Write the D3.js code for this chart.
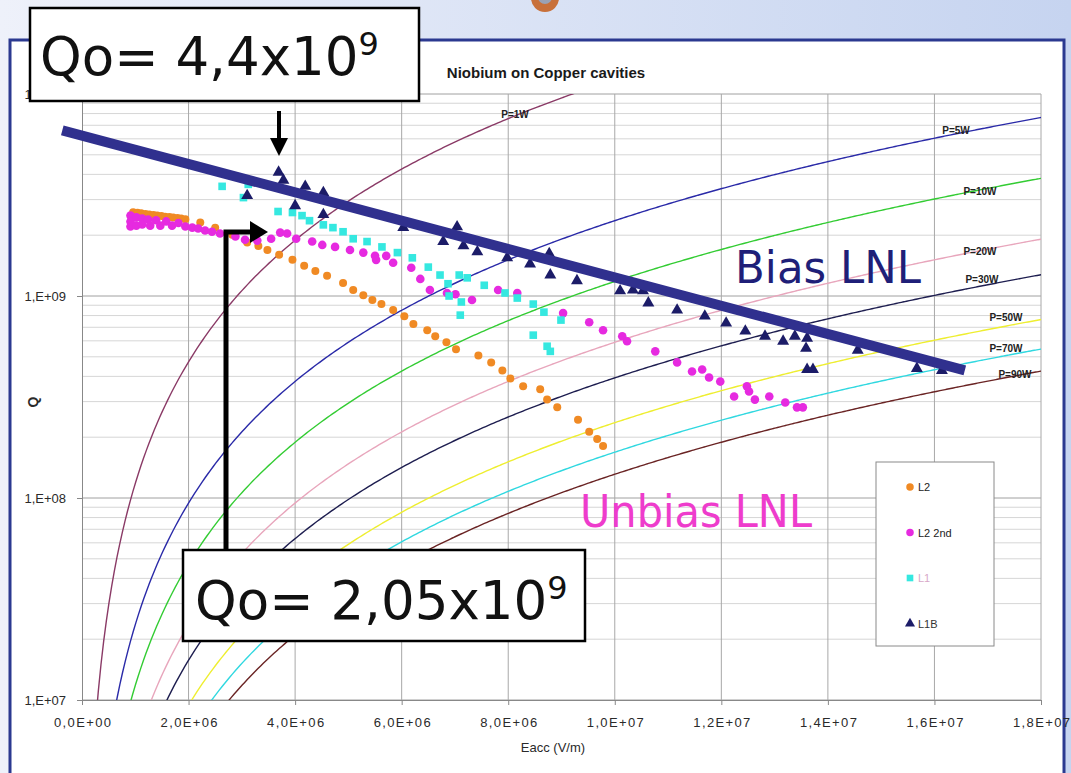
<!DOCTYPE html>
<html>
<head>
<meta charset="utf-8">
<script src="https://cdn.jsdelivr.net/npm/d3@7"></script>
<style>
  body { margin: 0; background: #fff; }
  svg { display: block; }
</style>
</head>
<body>
<div id="chart"></div>
<script>
// ---- data (Eacc in MV/m, Q in units of 1e9) ----
const xTickValues = [0, 2e6, 4e6, 6e6, 8e6, 1e7, 1.2e7, 1.4e7, 1.6e7, 1.8e7];
const xTickLabels = ['0,0E+00', '2,0E+06', '4,0E+06', '6,0E+06', '8,0E+06', '1,0E+07', '1,2E+07', '1,4E+07', '1,6E+07', '1,8E+07'];
const yTickValues = [1e7, 1e8, 1e9, 1e10];
const yTickLabels = ['1,E+07', '1,E+08', '1,E+09', '1,E+10'];

const seriesNames = ['L2', 'L2 2nd', 'L1', 'L1B'];

const l2 = [
  [0.96, 2.60], [1.04, 2.58], [1.11, 2.57], [1.19, 2.55], [1.26, 2.53], [1.34, 2.52], [1.41, 2.50],
  [1.49, 2.49], [1.56, 2.47], [1.64, 2.46], [1.71, 2.45], [1.79, 2.43], [1.86, 2.42], [1.94, 2.40],
  [2.22, 2.31], [2.50, 2.18], [2.82, 2.01], [3.10, 1.84], [3.31, 1.77], [3.48, 1.69], [3.70, 1.60],
  [3.95, 1.51], [4.17, 1.41], [4.38, 1.33], [4.60, 1.26], [4.90, 1.16], [5.09, 1.07], [5.28, 1.01],
  [5.45, 0.955], [5.62, 0.912], [5.84, 0.852], [6.05, 0.795], [6.22, 0.726], [6.48, 0.677],
  [6.63, 0.632], [6.84, 0.590], [7.02, 0.545], [7.44, 0.508], [7.68, 0.469], [7.89, 0.428],
  [8.04, 0.391], [8.28, 0.357], [8.60, 0.345], [8.73, 0.307], [8.92, 0.281], [9.31, 0.244],
  [9.52, 0.213], [9.67, 0.196], [9.78, 0.181]
];

const l2second = [
  [0.91, 2.50], [0.91, 2.34], [0.91, 2.21], [1.02, 2.45], [1.02, 2.23], [1.13, 2.42], [1.13, 2.26],
  [1.24, 2.39], [1.28, 2.23], [1.39, 2.37], [1.47, 2.23], [1.58, 2.34], [1.69, 2.23], [1.81, 2.30],
  [1.94, 2.21], [2.07, 2.18], [2.18, 2.16], [2.31, 2.11], [2.44, 2.08], [2.59, 2.04],
  [2.88, 1.97], [3.06, 1.90], [3.29, 1.88], [3.55, 1.92], [3.72, 2.06], [3.85, 2.04], [4.02, 1.92],
  [4.32, 1.86], [4.51, 1.79], [4.75, 1.75], [5.03, 1.69], [5.28, 1.64], [5.50, 1.58], [5.52, 1.51],
  [5.71, 1.58], [5.84, 1.46], [6.18, 1.38], [6.35, 1.215], [6.53, 1.07], [6.85, 1.035], [7.01, 1.02],
  [7.32, 0.955], [7.81, 1.07], [8.17, 1.035], [9.03, 0.823], [9.52, 0.742], [9.78, 0.677],
  [10.14, 0.632], [10.23, 0.597], [10.76, 0.532], [11.17, 0.469], [11.45, 0.423], [11.64, 0.433],
  [11.77, 0.395], [11.98, 0.377], [12.24, 0.318], [12.48, 0.357], [12.52, 0.337], [12.63, 0.307],
  [12.90, 0.318], [13.20, 0.297], [13.42, 0.281], [13.53, 0.281]
];

const l1 = [
  [2.63, 3.49], [3.12, 3.57], [3.03, 3.07], [3.68, 2.62], [3.95, 2.59], [4.13, 2.50], [4.27, 2.36],
  [4.53, 2.25], [4.71, 2.18], [4.90, 2.08], [5.09, 1.92], [5.35, 1.86], [5.63, 1.75], [5.92, 1.64],
  [6.20, 1.545], [6.50, 1.39], [6.72, 1.27], [6.87, 1.15], [6.89, 1.00], [7.08, 1.27], [7.23, 1.23],
  [7.12, 0.934], [7.10, 0.804], [7.55, 1.13], [7.94, 1.035], [8.17, 0.977], [8.47, 0.912],
  [8.67, 0.832], [8.99, 0.76], [8.47, 0.64], [8.73, 0.564], [8.79, 0.532]
];

const l1b = [
  [3.69, 4.10], [3.78, 3.74], [4.19, 3.49], [4.53, 3.25], [3.10, 3.14], [4.00, 2.80], [4.53, 2.53],
  [6.03, 2.18], [6.78, 1.86], [7.04, 2.20], [7.16, 1.77], [7.42, 1.655], [7.98, 1.545], [8.41, 1.44],
  [8.77, 1.62], [8.79, 1.27], [9.29, 1.19], [10.10, 1.06], [10.34, 1.07], [10.53, 1.06], [10.63, 0.923],
  [11.17, 0.852], [11.69, 0.795], [12.09, 0.734], [12.45, 0.67], [12.82, 0.632], [13.16, 0.597],
  [13.38, 0.632], [13.59, 0.551], [13.61, 0.618], [13.61, 0.433], [13.72, 0.433], [14.56, 0.539],
  [15.67, 0.438], [16.14, 0.428]
];

// straight "Bias LNL" trend line, ends
const biasLine = [[-0.37, 6.6], [16.57, 0.428]];

// iso-power curves Q = c * Eacc^2 / P
const powerLevels = [1, 5, 10, 20, 30, 50, 70, 90];
const powerLabels = ['P=1W', 'P=5W', 'P=10W', 'P=20W', 'P=30W', 'P=50W', 'P=70W', 'P=90W'];
const qCoef = 1.18e-4;

// ---- layout ----
const width = 1071;
const height = 773;
const plot = { left: 82, right: 1041, top: 94, bottom: 700 };

const powerColors = ['#8a3a66', '#2a2aa8', '#33cc33', '#e8a6bc', '#1e1e50', '#eeee30', '#30d8e0', '#6a2424'];
const powerLabelPos = [[515, 118], [956, 134], [980, 195], [980, 255], [982, 283], [1006, 321], [1006, 352], [1015, 378]];

const svg = d3.select('#chart')
  .append('svg')
  .attr('width', width)
  .attr('height', height);

const defs = svg.append('defs');
const bg = defs.append('linearGradient').attr('id', 'bg').attr('x1', 0).attr('x2', 1).attr('y1', 0).attr('y2', 0);
bg.append('stop').attr('offset', '0%').attr('stop-color', '#eef1fa');
bg.append('stop').attr('offset', '100%').attr('stop-color', '#c6d4f0');

defs.append('clipPath').attr('id', 'plotclip')
  .append('rect')
  .attr('x', plot.left).attr('y', plot.top)
  .attr('width', plot.right - plot.left).attr('height', plot.bottom - plot.top);

svg.append('rect').attr('width', width).attr('height', height).attr('fill', 'url(#bg)');

// small logo peeking at the top
svg.append('circle').attr('cx', 545).attr('cy', -2).attr('r', 14).attr('fill', '#c8703a');
svg.append('circle').attr('cx', 545).attr('cy', -3).attr('r', 7).attr('fill', '#9aa2b4');

// slide panel
svg.append('rect')
  .attr('x', 10).attr('y', 40)
  .attr('width', 1054).attr('height', 760)
  .attr('fill', '#fff')
  .attr('stroke', '#2b3990')
  .attr('stroke-width', 3);

const xScale = d3.scaleLinear().domain([0, 1.8e7]).range([plot.left, plot.right]);
const yScale = d3.scaleLog().domain([1e7, 1e10]).range([plot.bottom, plot.top]);

// ---- grid ----
const minorY = [];
[7, 8, 9].forEach(e => { for (let m = 2; m <= 9; m++) minorY.push(m * Math.pow(10, e)); });

svg.append('g')
  .selectAll('line')
  .data(minorY)
  .enter()
  .append('line')
  .attr('x1', plot.left).attr('x2', plot.right)
  .attr('y1', d => yScale(d)).attr('y2', d => yScale(d))
  .attr('stroke', '#d6d6d6')
  .attr('stroke-width', 1);

svg.append('g')
  .selectAll('line')
  .data(yTickValues)
  .enter()
  .append('line')
  .attr('x1', plot.left).attr('x2', plot.right)
  .attr('y1', d => yScale(d)).attr('y2', d => yScale(d))
  .attr('stroke', '#a0a0a0');

svg.append('g')
  .selectAll('line')
  .data(xTickValues.slice(1))
  .enter()
  .append('line')
  .attr('x1', d => xScale(d)).attr('x2', d => xScale(d))
  .attr('y1', plot.top).attr('y2', plot.bottom)
  .attr('stroke', '#a8a8a8');

// ---- axes ----
const xAxis = d3.axisBottom(xScale)
  .tickValues(xTickValues)
  .tickFormat((d, i) => xTickLabels[i])
  .tickSize(5)
  .tickSizeOuter(0);

const yAxis = d3.axisLeft(yScale)
  .tickValues(yTickValues)
  .tickFormat((d, i) => yTickLabels[i])
  .tickSize(5)
  .tickSizeOuter(0);

const gx = svg.append('g')
  .attr('transform', `translate(0, ${plot.bottom})`)
  .call(xAxis);
gx.selectAll('text')
  .attr('dy', '1.45em')
  .style('font', '13px "Liberation Sans", Arial, sans-serif')
  .attr('fill', '#2a2a2a')
  .attr('textLength', 57)
  .attr('lengthAdjust', 'spacing');

const gy = svg.append('g')
  .attr('transform', `translate(${plot.left}, 0)`)
  .call(yAxis);
gy.selectAll('text')
  .attr('x', -16)
  .style('font', '13px "Liberation Sans", Arial, sans-serif')
  .attr('fill', '#2a2a2a');

[gx, gy].forEach(g => {
  g.select('.domain').attr('stroke', '#888');
  g.selectAll('.tick line').attr('stroke', '#888');
});

svg.append('text')
  .attr('x', 553).attr('y', 752)
  .attr('text-anchor', 'middle')
  .style('font', '13px "Liberation Sans", Arial, sans-serif')
  .attr('fill', '#2a2a2a')
  .text('Eacc (V/m)');

svg.append('text')
  .attr('transform', 'translate(38, 402) rotate(-90)')
  .attr('text-anchor', 'middle')
  .style('font', 'bold 14px "Liberation Sans", Arial, sans-serif')
  .attr('fill', '#2a2a2a')
  .text('Q');

svg.append('text')
  .attr('x', 546).attr('y', 78)
  .attr('text-anchor', 'middle')
  .style('font', 'bold 15px "Liberation Sans", Arial, sans-serif')
  .attr('fill', '#1a1a1a')
  .text('Niobium on Copper cavities');

// ---- iso-power curves ----
const curveLine = d3.line()
  .x(d => xScale(d[0]))
  .y(d => yScale(d[1]))
  .curve(d3.curveMonotoneX);

const curveG = svg.append('g').attr('clip-path', 'url(#plotclip)');
powerLevels.forEach((p, i) => {
  const eStart = Math.sqrt(5e6 * p / qCoef);
  const pts = d3.range(eStart, 1.82e7, 5e4).map(e => [e, qCoef * e * e / p]);
  curveG.append('path')
    .attr('d', curveLine(pts))
    .attr('fill', 'none')
    .attr('stroke', powerColors[i])
    .attr('stroke-width', 1.4);
});

svg.append('g')
  .selectAll('text')
  .data(powerLabels)
  .enter()
  .append('text')
  .attr('x', (d, i) => powerLabelPos[i][0])
  .attr('y', (d, i) => powerLabelPos[i][1])
  .attr('text-anchor', 'middle')
  .style('font', 'bold 10px "Liberation Sans", Arial, sans-serif')
  .attr('fill', '#222')
  .text(d => d);

// ---- data series ----
const toPt = d => [xScale(d[0] * 1e6), yScale(d[1] * 1e9)];

svg.append('g')
  .selectAll('circle')
  .data(l2)
  .enter()
  .append('circle')
  .attr('cx', d => toPt(d)[0])
  .attr('cy', d => toPt(d)[1])
  .attr('r', 4)
  .attr('fill', '#f08a24');

svg.append('g')
  .selectAll('circle')
  .data(l2second)
  .enter()
  .append('circle')
  .attr('cx', d => toPt(d)[0])
  .attr('cy', d => toPt(d)[1])
  .attr('r', 4.3)
  .attr('fill', '#e62ae0');

const square = d3.symbol().type(d3.symbolSquare).size(58);
svg.append('g')
  .selectAll('path')
  .data(l1)
  .enter()
  .append('path')
  .attr('d', square)
  .attr('transform', d => `translate(${toPt(d)})`)
  .attr('fill', '#35e8e0');

const tri = d3.symbol().type(d3.symbolTriangle).size(62);
svg.append('g')
  .selectAll('path')
  .data(l1b)
  .enter()
  .append('path')
  .attr('d', tri)
  .attr('transform', d => `translate(${toPt(d)})`)
  .attr('fill', '#1c1c68');

svg.append('line')
  .attr('x1', toPt(biasLine[0])[0]).attr('y1', toPt(biasLine[0])[1])
  .attr('x2', toPt(biasLine[1])[0]).attr('y2', toPt(biasLine[1])[1])
  .attr('stroke', '#30308e')
  .attr('stroke-width', 10);

// ---- legend ----
const legend = svg.append('g').attr('transform', 'translate(876, 462)');
legend.append('rect')
  .attr('width', 118).attr('height', 184)
  .attr('fill', '#fff')
  .attr('stroke', '#8a8a8a');

const legendColors = ['#f08a24', '#e62ae0', '#35e8e0', '#1c1c68'];
const legendText = ['#222', '#222', '#d8a8c8', '#333'];
const legendSymbols = [d3.symbolCircle, d3.symbolCircle, d3.symbolSquare, d3.symbolTriangle];

const items = legend.selectAll('g')
  .data(seriesNames)
  .enter()
  .append('g')
  .attr('transform', (d, i) => `translate(34, ${25 + i * 45.5})`);
items.append('path')
  .attr('d', (d, i) => d3.symbol().type(legendSymbols[i]).size(44)())
  .attr('fill', (d, i) => legendColors[i]);
items.append('text')
  .attr('x', 8).attr('y', 4)
  .style('font', '11px "Liberation Sans", Arial, sans-serif')
  .attr('fill', (d, i) => legendText[i])
  .text(d => d);

// ---- annotations ----
svg.append('text')
  .attr('x', 735).attr('y', 283)
  .attr('textLength', 186)
  .attr('lengthAdjust', 'spacingAndGlyphs')
  .style('font', '45px "DejaVu Sans", sans-serif')
  .attr('fill', '#1f1f78')
  .text('Bias LNL');

svg.append('text')
  .attr('x', 580).attr('y', 527)
  .attr('textLength', 232)
  .attr('lengthAdjust', 'spacingAndGlyphs')
  .style('font', '44px "DejaVu Sans", sans-serif')
  .attr('fill', '#ee3ccc')
  .text('Unbias LNL');

// connector to the lower box
svg.append('path')
  .attr('d', 'M226,552 L226,232 L252,232')
  .attr('fill', 'none')
  .attr('stroke', '#000')
  .attr('stroke-width', 5);
svg.append('path')
  .attr('d', 'M250,221 L268,232 L250,243 Z')
  .attr('fill', '#000');

// arrow to the 4.4e9 point
svg.append('line')
  .attr('x1', 279).attr('y1', 111).attr('x2', 279).attr('y2', 140)
  .attr('stroke', '#000').attr('stroke-width', 4);
svg.append('path')
  .attr('d', 'M270,138 L288,138 L279,156 Z')
  .attr('fill', '#000');

function qoBox(x, y, w, h, main, tx, ty) {
  svg.append('rect')
    .attr('x', x).attr('y', y).attr('width', w).attr('height', h)
    .attr('fill', '#fff')
    .attr('stroke', '#000')
    .attr('stroke-width', 2.5);
  const t = svg.append('text')
    .attr('x', tx).attr('y', ty)
    .style('font', '53px "DejaVu Sans", sans-serif')
    .attr('fill', '#111');
  t.append('tspan').text(main);
  t.append('tspan')
    .attr('dy', -20)
    .style('font-size', '32px')
    .text('9');
}

qoBox(30, 8, 389, 93, 'Qo= 4,4x10', 40, 75);
qoBox(183, 550, 402, 91, 'Qo= 2,05x10', 195, 619);
</script>
</body>
</html>
